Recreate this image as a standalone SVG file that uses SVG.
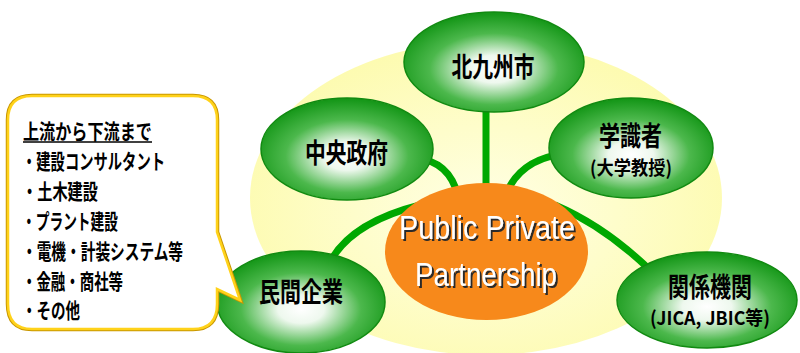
<svg xmlns="http://www.w3.org/2000/svg" width="800" height="353" viewBox="0 0 800 353">
<defs>
<radialGradient id="gGreen" cx="50%" cy="57%" r="55%">
<stop offset="0" stop-color="#ffffff"/>
<stop offset="0.25" stop-color="#eef8ee"/>
<stop offset="0.65" stop-color="#4cb84c"/>
<stop offset="1" stop-color="#17981a"/>
</radialGradient>
<radialGradient id="gYellow" cx="50%" cy="55%" r="55%">
<stop offset="0" stop-color="#ffffe6"/>
<stop offset="1" stop-color="#fdfbb0"/>
</radialGradient>
<filter id="sh" x="-10%" y="-10%" width="130%" height="130%">
<feOffset dx="2" dy="2" in="SourceAlpha" result="o"/>
<feFlood flood-color="#2a2a2a"/>
<feComposite in2="o" operator="in" result="s"/>
<feMerge><feMergeNode in="s"/><feMergeNode in="SourceGraphic"/></feMerge>
</filter>
</defs>
<style>
.node{fill:url(#gGreen);stroke:#118a11;stroke-width:1.5}
.lbl{font-family:"Noto Sans CJK JP","Liberation Sans",sans-serif;font-weight:bold;fill:#000;text-anchor:middle}
.big{font-size:27px}
.sub{font-size:19px}
.conn{fill:none;stroke:#00a800;stroke-width:7}
.ct{font-family:"Noto Sans CJK JP",sans-serif;font-size:21px;font-weight:bold;fill:#000}
.ppp{font-family:"Liberation Sans",Arial,sans-serif;font-size:34px;fill:#fff;text-anchor:middle}
</style>

<ellipse id="background" cx="486" cy="198" rx="236" ry="157" fill="url(#gYellow)"/>

<g id="connectors">
<path class="conn" d="M486,105 L486,195"/>
<path class="conn" d="M415,158 Q449.5,161 458,196"/>
<path class="conn" d="M562,154 Q520,160 506,194"/>
<path class="conn" d="M330,262 Q351,222.5 420,205"/>
<path class="conn" d="M555,205 Q605,226.5 650,270"/>
</g>

<g id="node-kitakyushu">
<ellipse class="node" cx="494" cy="62" rx="90" ry="50"/>
<text class="lbl big" x="493" y="77" textLength="83" lengthAdjust="spacingAndGlyphs">北九州市</text>
</g>

<g id="node-chuo">
<ellipse class="node" cx="347" cy="149" rx="86" ry="51"/>
<text class="lbl big" x="346.5" y="163" textLength="83" lengthAdjust="spacingAndGlyphs">中央政府</text>
</g>

<g id="node-gakushiki">
<ellipse class="node" cx="631" cy="148" rx="82" ry="50"/>
<text class="lbl big" x="630.5" y="146" textLength="63" lengthAdjust="spacingAndGlyphs">学識者</text>
<text class="lbl sub" x="631" y="175" textLength="82" lengthAdjust="spacingAndGlyphs">(大学教授)</text>
</g>

<g id="node-minkan">
<ellipse class="node" cx="301" cy="302" rx="84" ry="51"/>
<text class="lbl big" x="301" y="302" textLength="84" lengthAdjust="spacingAndGlyphs">民間企業</text>
</g>

<g id="node-kankei">
<ellipse class="node" cx="707" cy="300" rx="90" ry="48"/>
<text class="lbl big" x="710" y="297" textLength="84" lengthAdjust="spacingAndGlyphs">関係機関</text>
<text class="lbl sub" x="710" y="325" textLength="120" lengthAdjust="spacingAndGlyphs">(JICA, JBIC等)</text>
</g>

<g id="node-ppp">
<ellipse cx="486.5" cy="251.5" rx="101.5" ry="68.5" fill="#f7891b"/>
<g filter="url(#sh)">
<text class="ppp" x="487" y="239" textLength="176" lengthAdjust="spacingAndGlyphs">Public Private</text>
<text class="ppp" x="486" y="286" textLength="142" lengthAdjust="spacingAndGlyphs">Partnership</text>
</g>
</g>

<g id="callout">
<path d="M32,96 H193 Q217,96 217,120 V232 L240,300 L217,289 V304 Q217,329 193,329 H32 Q8,329 8,304 V120 Q8,96 32,96 Z" fill="#ffffff" stroke="#c99700" stroke-width="4.5" stroke-linejoin="miter"/>
<path d="M32,96 H193 Q217,96 217,120 V232 L240,300 L217,289 V304 Q217,329 193,329 H32 Q8,329 8,304 V120 Q8,96 32,96 Z" fill="#ffffff" stroke="#ffd21a" stroke-width="2.5" stroke-linejoin="miter"/>
<text class="ct" x="23" y="139" textLength="129" lengthAdjust="spacingAndGlyphs">上流から下流まで</text>
<line x1="23" y1="142" x2="152" y2="142" stroke="#000" stroke-width="1.6"/>
<text class="ct" x="22" y="169" textLength="143" lengthAdjust="spacingAndGlyphs">・建設コンサルタント</text>
<text class="ct" x="22" y="199" textLength="76" lengthAdjust="spacingAndGlyphs">・土木建設</text>
<text class="ct" x="22" y="229" textLength="96" lengthAdjust="spacingAndGlyphs">・プラント建設</text>
<text class="ct" x="22" y="259" textLength="161" lengthAdjust="spacingAndGlyphs">・電機・計装システム等</text>
<text class="ct" x="22" y="289" textLength="101" lengthAdjust="spacingAndGlyphs">・金融・商社等</text>
<text class="ct" x="22" y="318" textLength="58" lengthAdjust="spacingAndGlyphs">・その他</text>
</g>
</svg>
